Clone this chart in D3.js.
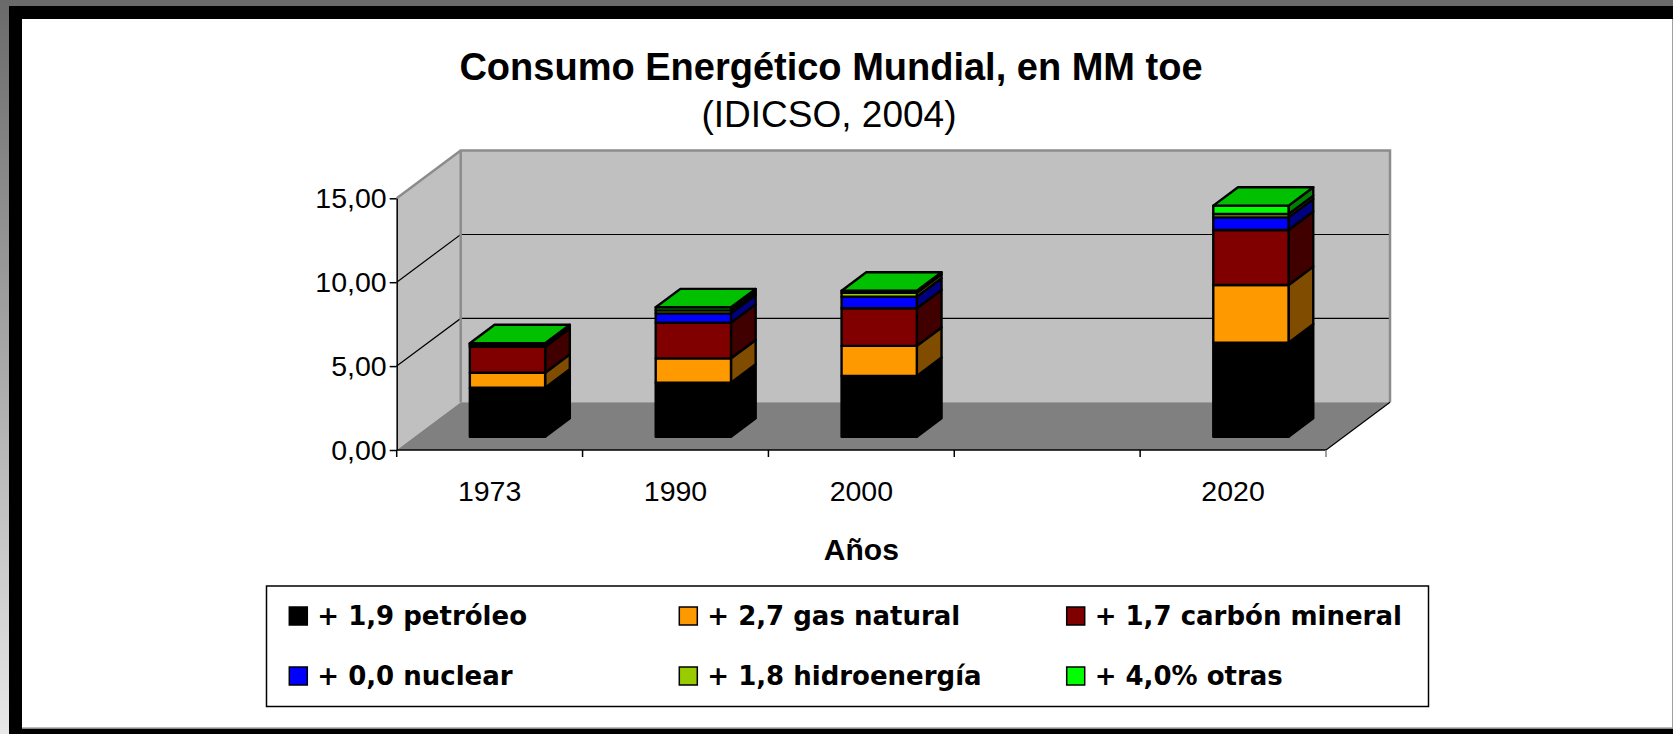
<!DOCTYPE html>
<html><head><meta charset="utf-8">
<script src="https://cdn.jsdelivr.net/npm/d3@7"></script>
<style>html,body{margin:0;padding:0;background:#fff;}svg{display:block;}</style>
</head><body>
<svg id="chart" width="1673" height="734"></svg>
<script>
// ---- data ----
const slots = ["1973", "1990", "2000", "", "2020"];
const petroleo = [2.92, 3.22, 3.62, null, 5.60];
const gasNatural = [0.89, 1.45, 1.79, null, 3.44];
const carbonMineral = [1.55, 2.12, 2.24, null, 3.28];
const nuclear = [0.05, 0.56, 0.69, null, 0.75];
const hidroenergia = [0.10, 0.18, 0.24, null, 0.20];
const otras = [0.06, 0.18, 0.12, null, 0.50];
const seriesNames = ["+ 1,9 petróleo", "+ 2,7 gas natural", "+ 1,7 carbón mineral", "+ 0,0 nuclear", "+ 1,8 hidroenergía", "+ 4,0% otras"];
const yTicks = [0, 5, 10, 15];
const titleText = "Consumo Energético Mundial, en MM toe";
const subtitleText = "(IDICSO, 2004)";
const xTitle = "Años";

// ---- styles ----
const frontColors = ["#000000", "#FF9900", "#800000", "#0000FF", "#99CC00", "#00FF00"];
const sideColors  = ["#000000", "#7F4C00", "#400000", "#000080", "#4C6600", "#008000"];
const topColors   = ["#000000", "#BF7300", "#600000", "#0000C0", "#739900", "#00C000"];

const seriesArrays = [petroleo, gasNatural, carbonMineral, nuclear, hidroenergia, otras];
const keys = seriesArrays.map((_, i) => "s" + i);
const table = slots.map((s, j) => {
  const row = {slot: s, idx: j};
  seriesArrays.forEach((arr, i) => row["s" + i] = arr[j] == null ? 0 : arr[j]);
  row.present = petroleo[j] != null;
  return row;
});

const svg = d3.select("#chart");

// ---- page frame ----
const defs = svg.append("defs");
const lg = defs.append("linearGradient").attr("id", "leftg").attr("x1", 0).attr("y1", 0).attr("x2", 0).attr("y2", 1);
lg.append("stop").attr("offset", "0").attr("stop-color", "#6a6a6a");
lg.append("stop").attr("offset", "1").attr("stop-color", "#e8e8e8");
svg.append("rect").attr("x", 0).attr("y", 0).attr("width", 1673).attr("height", 734).attr("fill", "#fff");
svg.append("rect").attr("x", 0).attr("y", 0).attr("width", 1673).attr("height", 6).attr("fill", "#6a6a6a");
svg.append("rect").attr("x", 0).attr("y", 0).attr("width", 9).attr("height", 734).attr("fill", "url(#leftg)");
svg.append("rect").attr("x", 9).attr("y", 6).attr("width", 1664).attr("height", 13).attr("fill", "#000");
svg.append("rect").attr("x", 9).attr("y", 6).attr("width", 13).attr("height", 728).attr("fill", "#000");
svg.append("rect").attr("x", 9).attr("y", 728.5).attr("width", 1664).attr("height", 6).attr("fill", "#000");
svg.append("line").attr("x1", 1672.5).attr("x2", 1672.5).attr("y1", 19).attr("y2", 728).attr("stroke", "#a0a0a0").attr("stroke-width", 1);
svg.append("line").attr("x1", 22).attr("x2", 1673).attr("y1", 727.8).attr("y2", 727.8).attr("stroke", "#a0a0a0").attr("stroke-width", 1);

// ---- geometry ----
const X0 = 396.7, X1 = 1326, Y0 = 450, YTOP = 198.3;
const DX = 64, DY = 47.7;       // full depth offset
const F0 = 0.279, F1 = 0.665;   // bar depth range
const BAR_FRAC = 0.405;

const x = d3.scaleBand().domain(d3.range(slots.length)).range([X0, X1]).padding(0);
const y = d3.scaleLinear().domain([0, 15]).range([Y0, YTOP]);
const maxV = 15;

const g = svg.append("g");

// side wall
g.append("polygon")
  .attr("points", [[X0, y(0)], [X0, y(maxV)], [X0 + DX, y(maxV) - DY], [X0 + DX, y(0) - DY]].join(" "))
  .attr("fill", "#C0C0C0");
// back wall
g.append("polygon")
  .attr("points", [[X0 + DX, y(maxV) - DY], [X1 + DX, y(maxV) - DY], [X1 + DX, y(0) - DY], [X0 + DX, y(0) - DY]].join(" "))
  .attr("fill", "#C0C0C0");
// floor
g.append("polygon")
  .attr("points", [[X0, y(0)], [X1, y(0)], [X1 + DX, y(0) - DY], [X0 + DX, y(0) - DY]].join(" "))
  .attr("fill", "#808080");

// gridlines
yTicks.filter(t => t > 0 && t < maxV).forEach(t => {
  g.append("polyline")
    .attr("points", [[X0, y(t)], [X0 + DX, y(t) - DY], [X1 + DX, y(t) - DY]].join(" "))
    .attr("fill", "none").attr("stroke", "#000").attr("stroke-width", 1.2);
});
// wall edges (gray)
g.append("polyline")
  .attr("points", [[X0, y(maxV)], [X0 + DX, y(maxV) - DY], [X1 + DX, y(maxV) - DY], [X1 + DX, y(0) - DY]].join(" "))
  .attr("fill", "none").attr("stroke", "#8c8c8c").attr("stroke-width", 2.5);
g.append("line")
  .attr("x1", X0 + DX).attr("x2", X0 + DX).attr("y1", y(maxV) - DY).attr("y2", y(0) - DY)
  .attr("stroke", "#8c8c8c").attr("stroke-width", 2.5);
// floor right edge
g.append("line")
  .attr("x1", X1).attr("y1", y(0)).attr("x2", X1 + DX).attr("y2", y(0) - DY)
  .attr("stroke", "#000").attr("stroke-width", 1.2);

// ---- bars ----
const stack = d3.stack().keys(keys);
const stacked = stack(table);
const bw = x.bandwidth() * BAR_FRAC;
const sdx = (F1 - F0) * DX, sdy = (F1 - F0) * DY;

const barG = g.append("g").attr("stroke", "#000").attr("stroke-width", 2.4).attr("stroke-linejoin", "round");
table.forEach((row, j) => {
  if (!row.present) return;
  const xl = x(j) + (x.bandwidth() - bw) / 2 + F0 * DX;
  const xr = xl + bw;
  const yf = v => y(v) - F0 * DY;
  let topIdx = -1;
  stacked.forEach((layer, i) => {
    const [v0, v1] = layer[j];
    if (v1 - v0 <= 0) return;
    topIdx = i;
    barG.append("polygon")
      .attr("points", [[xr, yf(v0)], [xr + sdx, yf(v0) - sdy], [xr + sdx, yf(v1) - sdy], [xr, yf(v1)]].join(" "))
      .attr("fill", sideColors[i]);
    barG.append("rect")
      .attr("x", xl).attr("y", yf(v1)).attr("width", bw).attr("height", yf(v0) - yf(v1))
      .attr("fill", frontColors[i]);
  });
  const vt = stacked[topIdx][j][1];
  barG.append("polygon")
    .attr("points", [[xl, yf(vt)], [xr, yf(vt)], [xr + sdx, yf(vt) - sdy], [xl + sdx, yf(vt) - sdy]].join(" "))
    .attr("fill", topColors[topIdx]);
});

// ---- axes ----
const fmt = d => d3.format(".2f")(d).replace(".", ",");
const yAxis = svg.append("g").attr("transform", `translate(${X0},0)`)
  .call(d3.axisLeft(y).tickValues(yTicks).tickFormat(fmt).tickSize(7).tickPadding(3).tickSizeOuter(0));
yAxis.select(".domain").attr("stroke", "#000").attr("stroke-width", 1.5);
yAxis.selectAll(".tick line").attr("stroke", "#000").attr("stroke-width", 1.5);
yAxis.selectAll(".tick text").attr("font-family", "'Liberation Sans', Arial, sans-serif").attr("font-size", 28.5).attr("fill", "#000");

// x axis line and boundary ticks
svg.append("line").attr("x1", X0).attr("x2", X1).attr("y1", Y0).attr("y2", Y0).attr("stroke", "#000").attr("stroke-width", 1.5);
const bounds = d3.range(slots.length).map(i => x(i)).concat([x(slots.length - 1) + x.bandwidth()]);
svg.selectAll(".xtick").data(bounds).enter().append("line")
  .attr("x1", d => d).attr("x2", d => d).attr("y1", Y0).attr("y2", Y0 + 7)
  .attr("stroke", (d, i) => i === bounds.length - 1 ? "#808080" : "#000").attr("stroke-width", 1.5);
svg.selectAll(".xlab").data(slots).enter().append("text")
  .attr("x", (d, i) => x(i) + x.bandwidth() / 2).attr("y", 491)
  .attr("text-anchor", "middle").attr("dominant-baseline", "central")
  .attr("font-family", "'Liberation Sans', Arial, sans-serif").attr("font-size", 28.5)
  .text(d => d);

svg.append("text").attr("x", (X0 + X1) / 2).attr("y", 549)
  .attr("text-anchor", "middle").attr("dominant-baseline", "central")
  .attr("font-family", "'Liberation Sans', Arial, sans-serif").attr("font-weight", "bold").attr("font-size", 30)
  .text(xTitle);

// ---- titles ----
svg.append("text").attr("x", 831).attr("y", 80)
  .attr("text-anchor", "middle")
  .attr("font-family", "'Liberation Sans', Arial, sans-serif").attr("font-weight", "bold").attr("font-size", 38)
  .text(titleText);
svg.append("text").attr("x", 829).attr("y", 127)
  .attr("text-anchor", "middle")
  .attr("font-family", "'Liberation Sans', Arial, sans-serif").attr("font-size", 37)
  .text(subtitleText);

// ---- legend ----
svg.append("rect").attr("x", 266.5).attr("y", 586).attr("width", 1162).attr("height", 120.5)
  .attr("fill", "#fff").attr("stroke", "#000").attr("stroke-width", 1.5);
const colX = [289.3, 679.3, 1066.7];
const rowY = [616, 676];
seriesNames.forEach((name, i) => {
  const cx = colX[i % 3], cy = rowY[Math.floor(i / 3)];
  svg.append("rect").attr("x", cx).attr("y", cy - 9).attr("width", 18).attr("height", 18)
    .attr("fill", frontColors[i]).attr("stroke", "#000").attr("stroke-width", 1.5);
  svg.append("text").attr("x", cx + 28).attr("y", cy + 9)
    .attr("font-family", "'DejaVu Sans', sans-serif").attr("font-weight", "bold").attr("font-size", 26)
    .text(name);
});
</script>
</body></html>
